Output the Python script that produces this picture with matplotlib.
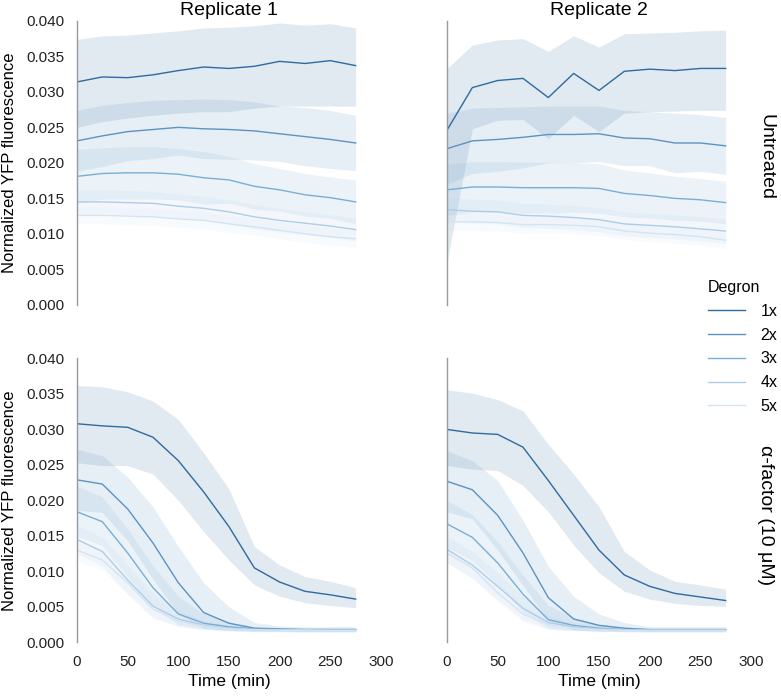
import numpy as np
import matplotlib
matplotlib.use("Agg")
import matplotlib.pyplot as plt

plt.rcParams['font.family'] = ['Liberation Sans', 'DejaVu Sans']

# time points (min)
times = [0, 25, 50, 75, 100, 125, 150, 175, 200, 225, 250, 275]
degrons = ["1x", "2x", "3x", "4x", "5x"]
colors = ["#2f6aa0", "#5b93c2", "#78aed6", "#aecde8", "#d4e4f3"]
col_titles = ["Replicate 1", "Replicate 2"]
row_titles = ["Untreated", "α-factor (10 μM)"]

# Replicate 1, untreated
r1_unt_mean = [
    [0.0314, 0.0321, 0.0320, 0.0324, 0.0330, 0.0335, 0.0333, 0.0336, 0.0343, 0.0340, 0.0344, 0.0337],
    [0.0231, 0.0238, 0.0244, 0.0247, 0.0250, 0.0248, 0.0247, 0.0245, 0.0241, 0.0237, 0.0233, 0.0228],
    [0.0181, 0.0185, 0.0186, 0.0186, 0.0184, 0.0179, 0.0176, 0.0167, 0.0162, 0.0155, 0.0151, 0.0145],
    [0.0145, 0.0145, 0.0144, 0.0143, 0.0139, 0.0136, 0.0131, 0.0124, 0.0119, 0.0115, 0.0111, 0.0106],
    [0.0126, 0.0126, 0.0125, 0.0124, 0.0121, 0.0119, 0.0114, 0.0110, 0.0105, 0.0100, 0.0096, 0.0093],
]
r1_unt_hi = [
    [0.0374, 0.0379, 0.0380, 0.0383, 0.0386, 0.0390, 0.0391, 0.0393, 0.0397, 0.0394, 0.0396, 0.0390],
    [0.0274, 0.0281, 0.0285, 0.0288, 0.0289, 0.0290, 0.0289, 0.0286, 0.0280, 0.0278, 0.0274, 0.0267],
    [0.0219, 0.0221, 0.0223, 0.0223, 0.0220, 0.0216, 0.0209, 0.0199, 0.0192, 0.0185, 0.0180, 0.0176],
    [0.0162, 0.0162, 0.0161, 0.0160, 0.0156, 0.0153, 0.0148, 0.0141, 0.0136, 0.0131, 0.0127, 0.0122],
    [0.0138, 0.0138, 0.0137, 0.0136, 0.0133, 0.0131, 0.0126, 0.0122, 0.0117, 0.0112, 0.0108, 0.0105],
]
r1_unt_lo = [
    [0.0250, 0.0258, 0.0263, 0.0267, 0.0270, 0.0272, 0.0272, 0.0277, 0.0280, 0.0280, 0.0280, 0.0280],
    [0.0188, 0.0195, 0.0203, 0.0206, 0.0211, 0.0206, 0.0205, 0.0204, 0.0202, 0.0196, 0.0192, 0.0189],
    [0.0143, 0.0149, 0.0149, 0.0149, 0.0148, 0.0142, 0.0143, 0.0135, 0.0132, 0.0125, 0.0122, 0.0114],
    [0.0128, 0.0128, 0.0127, 0.0126, 0.0122, 0.0119, 0.0114, 0.0107, 0.0102, 0.0099, 0.0095, 0.0090],
    [0.0114, 0.0114, 0.0113, 0.0112, 0.0109, 0.0107, 0.0102, 0.0098, 0.0093, 0.0088, 0.0084, 0.0081],
]

# Replicate 2, untreated
r2_unt_mean = [
    [0.0246, 0.0306, 0.0316, 0.0319, 0.0292, 0.0326, 0.0302, 0.0329, 0.0332, 0.0330, 0.0333, 0.0333],
    [0.0220, 0.0231, 0.0233, 0.0236, 0.0240, 0.0240, 0.0241, 0.0235, 0.0234, 0.0228, 0.0228, 0.0224],
    [0.0162, 0.0166, 0.0166, 0.0165, 0.0165, 0.0165, 0.0164, 0.0157, 0.0154, 0.0150, 0.0148, 0.0144],
    [0.0134, 0.0132, 0.0131, 0.0126, 0.0125, 0.0123, 0.0120, 0.0114, 0.0112, 0.0110, 0.0107, 0.0104],
    [0.0117, 0.0117, 0.0116, 0.0113, 0.0113, 0.0112, 0.0110, 0.0104, 0.0101, 0.0099, 0.0096, 0.0091],
]
r2_unt_hi = [
    [0.0333, 0.0366, 0.0373, 0.0375, 0.0357, 0.0379, 0.0363, 0.0382, 0.0383, 0.0384, 0.0386, 0.0387],
    [0.0270, 0.0277, 0.0278, 0.0279, 0.0280, 0.0280, 0.0280, 0.0274, 0.0272, 0.0270, 0.0268, 0.0264],
    [0.0198, 0.0202, 0.0202, 0.0201, 0.0201, 0.0200, 0.0199, 0.0190, 0.0186, 0.0181, 0.0178, 0.0174],
    [0.0151, 0.0149, 0.0148, 0.0143, 0.0142, 0.0140, 0.0137, 0.0131, 0.0129, 0.0127, 0.0124, 0.0121],
    [0.0129, 0.0129, 0.0128, 0.0125, 0.0125, 0.0124, 0.0122, 0.0116, 0.0113, 0.0111, 0.0108, 0.0103],
]
r2_unt_lo = [
    [0.0060, 0.0248, 0.0260, 0.0261, 0.0234, 0.0267, 0.0244, 0.0270, 0.0272, 0.0273, 0.0274, 0.0274],
    [0.0170, 0.0185, 0.0188, 0.0193, 0.0200, 0.0200, 0.0202, 0.0196, 0.0196, 0.0186, 0.0188, 0.0184],
    [0.0126, 0.0130, 0.0130, 0.0129, 0.0129, 0.0130, 0.0129, 0.0124, 0.0122, 0.0119, 0.0118, 0.0114],
    [0.0117, 0.0115, 0.0114, 0.0109, 0.0108, 0.0106, 0.0103, 0.0097, 0.0095, 0.0093, 0.0090, 0.0087],
    [0.0105, 0.0105, 0.0104, 0.0101, 0.0101, 0.0100, 0.0098, 0.0092, 0.0089, 0.0087, 0.0084, 0.0079],
]

# Replicate 1, alpha-factor
r1_af_mean = [
    [0.0308, 0.0305, 0.0303, 0.0289, 0.0256, 0.0212, 0.0163, 0.0105, 0.0085, 0.0072, 0.0067, 0.0061],
    [0.0229, 0.0223, 0.0188, 0.0140, 0.0084, 0.0042, 0.0027, 0.0020, 0.0019, 0.0018, 0.0018, 0.0018],
    [0.0184, 0.0170, 0.0126, 0.0077, 0.0040, 0.0027, 0.0022, 0.0019, 0.0018, 0.0018, 0.0018, 0.0018],
    [0.0145, 0.0128, 0.0088, 0.0051, 0.0033, 0.0024, 0.0020, 0.0018, 0.0018, 0.0018, 0.0017, 0.0017],
    [0.0130, 0.0116, 0.0084, 0.0047, 0.0030, 0.0023, 0.0019, 0.0018, 0.0017, 0.0017, 0.0017, 0.0017],
]
r1_af_hi = [
    [0.0362, 0.0360, 0.0353, 0.0340, 0.0314, 0.0267, 0.0216, 0.0135, 0.0109, 0.0093, 0.0086, 0.0077],
    [0.0272, 0.0263, 0.0233, 0.0191, 0.0135, 0.0084, 0.0050, 0.0028, 0.0023, 0.0022, 0.0022, 0.0022],
    [0.0220, 0.0205, 0.0160, 0.0108, 0.0065, 0.0040, 0.0029, 0.0022, 0.0021, 0.0021, 0.0021, 0.0021],
    [0.0165, 0.0148, 0.0110, 0.0070, 0.0045, 0.0031, 0.0024, 0.0021, 0.0020, 0.0020, 0.0020, 0.0020],
    [0.0145, 0.0131, 0.0100, 0.0062, 0.0040, 0.0029, 0.0023, 0.0020, 0.0019, 0.0019, 0.0019, 0.0019],
]
r1_af_lo = [
    [0.0253, 0.0249, 0.0249, 0.0237, 0.0200, 0.0156, 0.0116, 0.0081, 0.0065, 0.0056, 0.0052, 0.0049],
    [0.0186, 0.0183, 0.0143, 0.0089, 0.0040, 0.0020, 0.0017, 0.0016, 0.0016, 0.0015, 0.0015, 0.0015],
    [0.0150, 0.0136, 0.0093, 0.0050, 0.0025, 0.0019, 0.0017, 0.0016, 0.0015, 0.0015, 0.0015, 0.0015],
    [0.0125, 0.0108, 0.0068, 0.0035, 0.0023, 0.0018, 0.0016, 0.0015, 0.0015, 0.0015, 0.0015, 0.0015],
    [0.0115, 0.0101, 0.0068, 0.0034, 0.0022, 0.0018, 0.0016, 0.0015, 0.0015, 0.0015, 0.0015, 0.0015],
]

# Replicate 2, alpha-factor
r2_af_mean = [
    [0.0300, 0.0295, 0.0293, 0.0275, 0.0228, 0.0179, 0.0130, 0.0095, 0.0079, 0.0069, 0.0064, 0.0059],
    [0.0227, 0.0215, 0.0179, 0.0126, 0.0063, 0.0033, 0.0024, 0.0020, 0.0018, 0.0018, 0.0018, 0.0018],
    [0.0167, 0.0148, 0.0112, 0.0068, 0.0032, 0.0024, 0.0020, 0.0018, 0.0018, 0.0018, 0.0018, 0.0018],
    [0.0131, 0.0109, 0.0079, 0.0048, 0.0028, 0.0022, 0.0019, 0.0018, 0.0017, 0.0017, 0.0017, 0.0017],
    [0.0126, 0.0105, 0.0070, 0.0040, 0.0025, 0.0020, 0.0018, 0.0017, 0.0017, 0.0017, 0.0017, 0.0017],
]
r2_af_hi = [
    [0.0356, 0.0351, 0.0342, 0.0326, 0.0279, 0.0237, 0.0191, 0.0128, 0.0102, 0.0086, 0.0081, 0.0075],
    [0.0270, 0.0256, 0.0228, 0.0172, 0.0107, 0.0065, 0.0040, 0.0028, 0.0022, 0.0022, 0.0022, 0.0022],
    [0.0200, 0.0180, 0.0142, 0.0095, 0.0052, 0.0035, 0.0026, 0.0021, 0.0020, 0.0020, 0.0020, 0.0020],
    [0.0150, 0.0128, 0.0098, 0.0065, 0.0038, 0.0028, 0.0023, 0.0020, 0.0019, 0.0019, 0.0019, 0.0019],
    [0.0140, 0.0118, 0.0084, 0.0052, 0.0033, 0.0025, 0.0021, 0.0019, 0.0019, 0.0019, 0.0019, 0.0019],
]
r2_af_lo = [
    [0.0249, 0.0244, 0.0242, 0.0221, 0.0184, 0.0137, 0.0098, 0.0072, 0.0061, 0.0055, 0.0052, 0.0051],
    [0.0184, 0.0174, 0.0130, 0.0080, 0.0030, 0.0018, 0.0016, 0.0016, 0.0015, 0.0015, 0.0015, 0.0015],
    [0.0134, 0.0116, 0.0082, 0.0042, 0.0020, 0.0017, 0.0016, 0.0015, 0.0015, 0.0015, 0.0015, 0.0015],
    [0.0112, 0.0090, 0.0060, 0.0032, 0.0019, 0.0017, 0.0016, 0.0015, 0.0015, 0.0015, 0.0015, 0.0015],
    [0.0112, 0.0092, 0.0057, 0.0029, 0.0018, 0.0016, 0.0015, 0.0015, 0.0015, 0.0015, 0.0015, 0.0015],
]

panels = [
    [(r1_unt_mean, r1_unt_lo, r1_unt_hi), (r2_unt_mean, r2_unt_lo, r2_unt_hi)],
    [(r1_af_mean, r1_af_lo, r1_af_hi), (r2_af_mean, r2_af_lo, r2_af_hi)],
]

fig = plt.figure(figsize=(7.81, 6.96), dpi=100)

# axes rectangles in figure fractions (left, bottom, width, height)
lefts = [77 / 781, 447 / 781]
bottoms = [0.562, 0.077]
w = 304 / 781
h = 0.408
# vertical position of the row labels on the right
row_title_y = [0.52, 0.45]

axes = []
for r in range(2):
    for c in range(2):
        ax = fig.add_axes([lefts[c], bottoms[r], w, h])
        mean, lo, hi = panels[r][c]
        for i in range(5):
            ax.fill_between(times, lo[i], hi[i], color=colors[i], alpha=0.14, lw=0)
        for i in range(5):
            ax.plot(times, mean[i], color=colors[i], lw=1.0, label=degrons[i])

        ax.set_xlim(0, 300)
        ax.set_ylim(0, 0.040)
        ax.set_xticks(np.arange(0, 301, 50))
        ax.set_yticks(np.arange(0, 0.0401, 0.005))
        ax.yaxis.set_major_formatter(matplotlib.ticker.FormatStrFormatter('%.3f'))
        ax.tick_params(length=0, labelsize=11, colors='#222222', pad=9)
        for s in ['top', 'right', 'bottom']:
            ax.spines[s].set_visible(False)
        ax.spines['left'].set_color('#999999')
        ax.spines['left'].set_linewidth(1.0)

        if r == 0:
            ax.set_title(col_titles[c], fontsize=14, pad=4)
            ax.tick_params(labelbottom=False)
        else:
            ax.set_xlabel("Time (min)", fontsize=12.5, labelpad=4)
        if c == 0:
            ax.set_ylabel("Normalized YFP fluorescence", fontsize=12, labelpad=7)
        else:
            ax.tick_params(labelleft=False)
            ax.text(1.02, row_title_y[r], row_titles[r], transform=ax.transAxes, rotation=-90,
                    ha='left', va='center', fontsize=14)
        axes.append(ax)

handles, labels = axes[0].get_legend_handles_labels()
leg = fig.legend(handles, labels, title="Degron", loc='upper left',
                 bbox_to_anchor=(708 / 781, 1 - 280 / 696), frameon=False,
                 fontsize=11.5, title_fontsize=11.5, handlelength=2.3,
                 handletextpad=1.0, labelspacing=0.55, borderpad=0, borderaxespad=0)
leg._legend_box.align = "left"

fig.savefig("out.png", dpi=100)
